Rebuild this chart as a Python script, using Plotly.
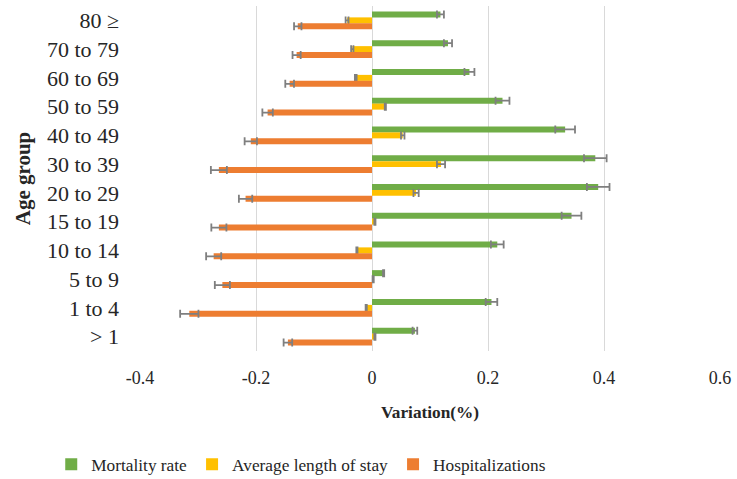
import plotly.graph_objects as go

age_groups = ["80 ≥", "70 to 79", "60 to 69", "50 to 59", "40 to 49", "30 to 39",
              "20 to 29", "15 to 19", "10 to 14", "5 to 9", "1 to 4", "> 1"]

mortality = [0.118, 0.131, 0.168, 0.225, 0.333, 0.385, 0.390, 0.344, 0.216, 0.020, 0.206, 0.074]
mortality_err = [0.006, 0.007, 0.0086, 0.012, 0.017, 0.0195, 0.0195, 0.017, 0.011, 0.001, 0.010, 0.004]

stay = [-0.043, -0.034, -0.028, 0.023, 0.053, 0.119, 0.076, 0.005, -0.026, 0.002, -0.010, 0.005]
stay_err = [0.0025, 0.002, 0.0015, 0.001, 0.003, 0.007, 0.0045, 0.001, 0.001, 0.001, 0.001, 0.001]

hosp = [-0.128, -0.130, -0.142, -0.180, -0.209, -0.264, -0.218, -0.264, -0.273, -0.258, -0.315, -0.145]
hosp_err = [0.0064, 0.007, 0.0075, 0.009, 0.0106, 0.0138, 0.0115, 0.013, 0.013, 0.013, 0.0158, 0.0074]

x_ticks = [-0.4, -0.2, 0, 0.2, 0.4, 0.6]
x_tick_labels = ["-0.4", "-0.2", "0", "0.2", "0.4", "0.6"]

series = [
    ("Mortality rate", mortality, mortality_err, "#70AD47"),
    ("Average length of stay", stay, stay_err, "#FFC000"),
    ("Hospitalizations", hosp, hosp_err, "#ED7D31"),
]

FONT = "Liberation Serif"
TXT = "#262626"

fig = go.Figure()
for name, vals, errs, color in series:
    fig.add_trace(go.Bar(
        name=name, y=age_groups, x=vals, orientation="h",
        marker=dict(color=color, line=dict(width=0)),
        error_x=dict(type="data", array=errs, color="#7f7f7f", thickness=1.8, width=4),
    ))

fig.update_layout(
    width=737, height=479,
    barmode="group", bargap=0.375, bargroupgap=0,
    plot_bgcolor="white", paper_bgcolor="white",
    font=dict(family=FONT, size=18, color=TXT),
    margin=dict(l=140, r=17, t=6, b=128, autoexpand=False),
    showlegend=True,
    legend=dict(orientation="h", x=0.278, xanchor="center", y=-0.277, yanchor="top",
                font=dict(family=FONT, size=17.3, color=TXT),
                itemwidth=30, tracegroupgap=0),
    xaxis=dict(range=[-0.4, 0.6], tickvals=x_ticks, ticktext=x_tick_labels,
               showgrid=True, gridcolor="#d9d9d9", gridwidth=1,
               zeroline=True, zerolinecolor="#d9d9d9", zerolinewidth=1,
               showline=False, ticks="", ticklabelstandoff=14,
               tickfont=dict(family=FONT, size=18, color=TXT),
               title=dict(text="<b>Variation(%)</b>", font=dict(family=FONT, size=17.3, color=TXT),
                          standoff=18)),
    yaxis=dict(autorange="reversed", showgrid=False, zeroline=False, showline=False, ticks="",
               ticklabelstandoff=20,
               tickfont=dict(family=FONT, size=22, color=TXT),
               title=dict(text="<b>Age group</b>", font=dict(family=FONT, size=21, color=TXT),
                          standoff=10)),
)

fig.write_html("out.html", config={"displayModeBar": False},
               post_script="document.body.style.margin='0';document.body.style.overflow='hidden';")
